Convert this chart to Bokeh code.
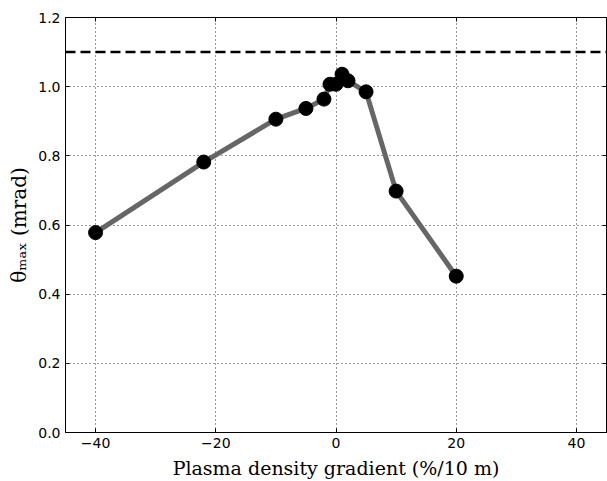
from bokeh.plotting import figure
from bokeh.models import Range1d, FixedTicker, LinearAxis, Span, PrintfTickFormatter, ColumnDataSource
from bokeh.embed import file_html
from bokeh.resources import INLINE

gradient = [-40, -22, -10, -5, -2, -1, 0, 1, 2, 5, 10, 20]
theta_max = [0.578, 0.782, 0.906, 0.937, 0.964, 1.007, 1.007, 1.036, 1.017, 0.985, 0.698, 0.452]
threshold = 1.1
x_ticks = [-40, -20, 0, 20, 40]
y_ticks = [0.0, 0.2, 0.4, 0.6, 0.8, 1.0, 1.2]

src = ColumnDataSource(dict(x=gradient, y=theta_max))

p = figure(width=607, height=481, output_backend="svg", toolbar_location=None,
           x_range=Range1d(-45, 45), y_range=Range1d(0, 1.2),
           min_border_left=65, min_border_right=1, min_border_top=17, min_border_bottom=48)
p.background_fill_color = "white"
p.outline_line_color = "black"
p.outline_line_width = 1

p.line("x", "y", source=src, line_color="#666666", line_width=5)
p.scatter("x", "y", source=src, size=14, fill_color="black", line_color="black")
p.add_layout(Span(location=threshold, dimension="width", line_color="black",
                  line_width=2.5, line_dash="10 5"))

for ax in [p.xaxis[0], p.yaxis[0]]:
    ax.major_tick_in = 4
    ax.major_tick_out = 0
    ax.minor_tick_line_color = None
    ax.axis_line_color = "black"
    ax.major_label_text_font = "DejaVu Sans"
    ax.major_label_text_font_size = "14px"
    ax.major_label_text_color = "black"
    ax.axis_label_text_font = "DejaVu Serif"
    ax.axis_label_text_font_style = "normal"
    ax.axis_label_text_color = "black"

p.xaxis.ticker = FixedTicker(ticks=x_ticks)
p.yaxis.ticker = FixedTicker(ticks=y_ticks)
p.xaxis.major_label_overrides = {-40: "\u221240", -20: "\u221220", 0: "0", 20: "20", 40: "40"}
p.yaxis.formatter = PrintfTickFormatter(format="%.1f")
p.xaxis.axis_label = "Plasma density gradient (%/10 m)"
p.yaxis.axis_label = "\u03b8\u2098\u2090\u2093 (mrad)"
p.xaxis.axis_label_text_font_size = "19px"
p.yaxis.axis_label_text_font_size = "20px"
p.xaxis.major_label_standoff = 5
p.yaxis.major_label_standoff = 5
p.xaxis.axis_label_standoff = 6
p.yaxis.axis_label_standoff = 4

top = LinearAxis(ticker=FixedTicker(ticks=x_ticks), major_label_text_color=None,
                 major_tick_in=4, major_tick_out=0, minor_tick_line_color=None, axis_line_color="black")
right = LinearAxis(ticker=FixedTicker(ticks=y_ticks), major_label_text_color=None,
                   major_tick_in=4, major_tick_out=0, minor_tick_line_color=None, axis_line_color="black")
p.add_layout(top, "above")
p.add_layout(right, "right")

p.xgrid.ticker = FixedTicker(ticks=x_ticks)
p.ygrid.ticker = FixedTicker(ticks=y_ticks)
p.grid.grid_line_color = "black"
p.grid.grid_line_dash = "1 3"
p.grid.grid_line_width = 1
p.grid.grid_line_alpha = 0.8

open("out.html", "w").write(file_html(p, INLINE))
